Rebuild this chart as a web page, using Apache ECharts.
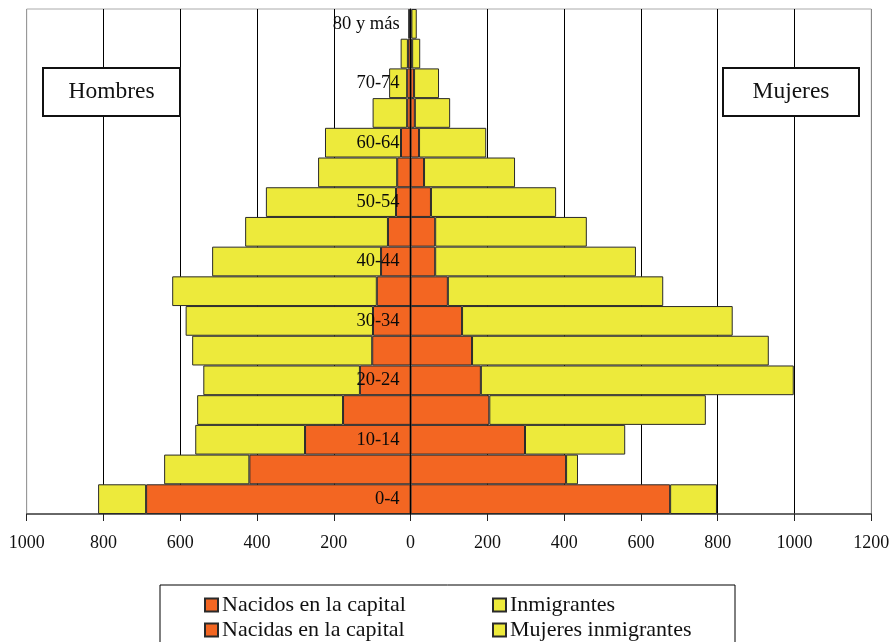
<!DOCTYPE html>
<html>
<head>
<meta charset="utf-8">
<script src="https://cdn.jsdelivr.net/npm/echarts@6/dist/echarts.min.js"></script>
<style>html,body{margin:0;padding:0;background:#fff;}#c{width:892px;height:642px;}</style>
</head>
<body>
<div id="c"></div>
<script>
const ageGroups = ['0-4','5-9','10-14','15-19','20-24','25-29','30-34','35-39','40-44','45-49','50-54','55-59','60-64','65-69','70-74','75-79','80 y más'];
const nacidosCapital = [689,420,275,176,132,100,98,88,77,59,38,35,25,9,9,7,4];
const inmigrantes = [125,222,286,380,408,469,488,533,440,372,339,206,198,90,47,19,1];
const nacidasCapital = [676,405,298,205,183,160,134,97,64,64,53,35,22,11,9,4,2];
const mujeresInmigrantes = [122,31,261,564,815,773,705,561,523,395,326,237,175,92,65,21,14];
const labeledGroups = ['0-4','10-14','20-24','30-34','40-44','50-54','60-64','70-74','80 y más'];
const xTicks = { min: -1000, max: 1200, step: 200 };

const ORANGE = '#F36622';
const YELLOW = '#EDEA3B';
const FONT = 'Liberation Serif';

const chart = echarts.init(document.getElementById('c'));
const neg = a => a.map(v => -v);
const barStyle = c => ({ color: c, borderColor: '#2a2a2a', borderWidth: 1 });
const legendText = { fontFamily: FONT, fontSize: 22, color: '#111', padding: [0, 0, 0, -1] };
const mkLegend = (name, left, top) => ({ orient: 'horizontal', left, top, itemWidth: 13, itemHeight: 13, itemGap: 5, icon: 'rect', textStyle: legendText, data: [name] });

chart.setOption({
  animation: false,
  textStyle: { fontFamily: FONT },
  grid: { left: 26.7, right: 20.7, top: 9, bottom: 128, containLabel: false, outerBoundsMode: 'none', show: true, borderColor: '#aaa', borderWidth: 1, backgroundColor: 'transparent' },
  xAxis: {
    type: 'value', min: xTicks.min, max: xTicks.max, interval: xTicks.step,
    axisLine: { show: true, lineStyle: { color: '#444', width: 1.5 } },
    axisTick: { show: true, inside: false, length: 7, lineStyle: { color: '#222' } },
    axisLabel: { formatter: v => String(Math.abs(v)), color: '#111', fontFamily: FONT, fontSize: 18, margin: 20 },
    splitLine: { show: true, lineStyle: { color: ['#999','#000','#000','#000','#000','#000','#000','#000','#000','#000','#000','#888'], width: 1 } }
  },
  yAxis: {
    type: 'category', data: ageGroups, z: 10,
    axisLine: { show: true, onZero: true, lineStyle: { color: '#000', width: 1 } },
    axisTick: { show: false },
    axisLabel: { show: false },
    splitLine: { show: false }
  },
  legend: [
    mkLegend('Nacidos en la capital', 199, 589),
    mkLegend('Nacidas en la capital', 199, 614),
    mkLegend('Inmigrantes', 487, 589),
    mkLegend('Mujeres inmigrantes', 487, 614)
  ],
  graphic: [
    { type: 'rect', shape: { x: 160, y: 585, width: 575, height: 70 }, style: { fill: '#fff', stroke: '#000', lineWidth: 1 }, z: -1 },
    { type: 'rect', shape: { x: 43, y: 68, width: 137, height: 48 }, style: { fill: '#fff', stroke: '#111', lineWidth: 2 }, z: 100 },
    { type: 'text', x: 111.5, y: 92, style: { text: 'Hombres', font: '23.5px "Liberation Serif"', fill: '#111', align: 'center', verticalAlign: 'middle' }, z: 101 },
    { type: 'rect', shape: { x: 723, y: 68, width: 136, height: 48 }, style: { fill: '#fff', stroke: '#111', lineWidth: 2 }, z: 100 },
    { type: 'text', x: 791, y: 92, style: { text: 'Mujeres', font: '23.5px "Liberation Serif"', fill: '#111', align: 'center', verticalAlign: 'middle' }, z: 101 }
  ],
  series: [
    { name: 'Nacidos en la capital', type: 'bar', stack: 'total', data: neg(nacidosCapital), itemStyle: barStyle(ORANGE), barCategoryGap: '0%' },
    { name: 'Inmigrantes', type: 'bar', stack: 'total', data: neg(inmigrantes), itemStyle: barStyle(YELLOW), barCategoryGap: '0%' },
    { name: 'Nacidas en la capital', type: 'bar', stack: 'total', data: nacidasCapital, itemStyle: barStyle(ORANGE), barCategoryGap: '0%' },
    { name: 'Mujeres inmigrantes', type: 'bar', stack: 'total', data: mujeresInmigrantes, itemStyle: barStyle(YELLOW), barCategoryGap: '0%' },
    { name: 'labels', type: 'custom', z: 20, silent: true, tooltip: { show: false },
      data: labeledGroups.map(g => [0, g]),
      encode: { x: 0, y: 1 },
      renderItem: (params, api) => {
        const p = api.coord([api.value(0), api.value(1)]);
        return { type: 'text', x: p[0] - 11, y: p[1], style: { text: labeledGroups[params.dataIndex], fill: '#0a0a0a', font: '18.5px "Liberation Serif"', align: 'right', verticalAlign: 'middle' } };
      } }
  ]
});
</script>
</body>
</html>
